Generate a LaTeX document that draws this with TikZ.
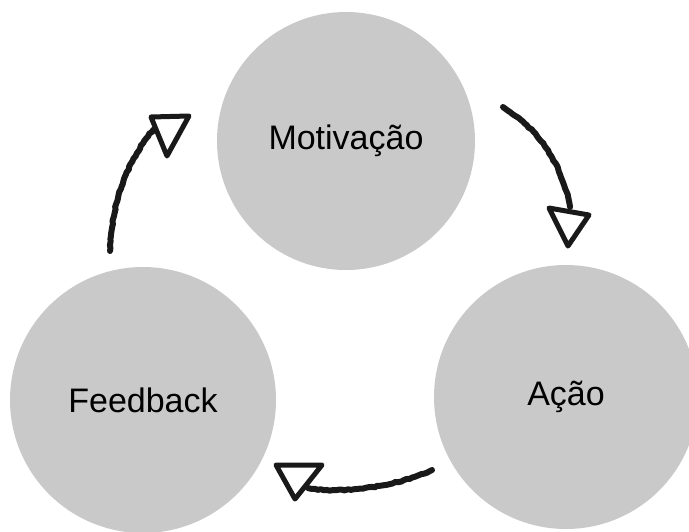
\documentclass[tikz,border=0pt]{standalone}
\usepackage{fontspec}
\setmainfont{Liberation Sans}
\usetikzlibrary{decorations.pathmorphing}
\begin{document}
\begin{tikzpicture}[x=1pt,y=-1pt,
  bubble/.style={circle,fill=black!21,draw=none,inner sep=0pt,font=\fontsize{34}{37}\selectfont},
  stroke/.style={line width=6pt,line cap=round,black!90,decorate,decoration={random steps,segment length=3pt,amplitude=0.6pt}},
  tip/.style={line width=5pt,line join=round,black!90}]
\useasboundingbox (0,0) rectangle (689,531);
\clip (0,0) rectangle (689,531);
\node[bubble,minimum size=258pt] (mot) at (346,141) {Motivação};
\node[bubble,minimum size=266pt] (fb) at (143,400) {Feedback};
\node[bubble,minimum size=264pt] (acao) at (566,397) {Ação};
% arrow 1
\coordinate (a1s) at (503,107);
\coordinate (a1e) at (570,207);
\draw[stroke] (a1s) .. controls (540,130) and (562,165) .. (a1e);
\draw[tip] (549,208) -- (589,215) -- (568,246) -- cycle;
% arrow 2
\coordinate (a2s) at (110,251);
\coordinate (a2e) at (153,130);
\draw[stroke] (a2s) .. controls (112,200) and (128,160) .. (a2e);
\draw[tip] (151,117) -- (189,116) -- (167,156) -- cycle;
% arrow 3
\coordinate (a3s) at (432,470);
\coordinate (a3e) at (308,488);
\draw[stroke] (a3s) .. controls (400,485) and (345,495) .. (a3e);
\draw[tip] (276,465) -- (322,465) -- (295,499) -- cycle;
\end{tikzpicture}
\end{document}
